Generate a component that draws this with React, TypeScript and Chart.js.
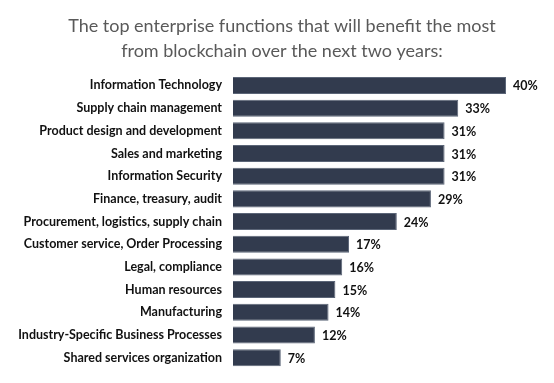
import React, { useEffect, useRef } from "react";
import { Chart, registerables } from "chart.js";

Chart.register(...registerables);

const titleLines = [
  "The top enterprise functions that will benefit the most",
  "from blockchain over the next two years:",
];

const categories = [
  "Information Technology",
  "Supply chain management",
  "Product design and development",
  "Sales and marketing",
  "Information Security",
  "Finance, treasury, audit",
  "Procurement, logistics, supply chain",
  "Customer service, Order Processing",
  "Legal, compliance",
  "Human resources",
  "Manufacturing",
  "Industry-Specific Business Processes",
  "Shared services organization",
];

const values = [40, 33, 31, 31, 31, 29, 24, 17, 16, 15, 14, 12, 7];

const FONT = "Lato, 'Open Sans', sans-serif";

const valueLabels = {
  id: "valueLabels",
  afterDatasetsDraw(chart: any) {
    const ctx = chart.ctx;
    const meta = chart.getDatasetMeta(0);
    ctx.save();
    ctx.font = `bold 12.5px ${FONT}`;
    ctx.fillStyle = "#111111";
    ctx.textAlign = "left";
    ctx.textBaseline = "middle";
    meta.data.forEach((bar: any, i: number) => {
      ctx.fillText(`${values[i]}%`, bar.x + 7, bar.y + 1);
    });
    ctx.restore();
  },
};

export default function App() {
  const ref = useRef<HTMLCanvasElement | null>(null);

  useEffect(() => {
    if (!ref.current) return;
    const chart = new Chart(ref.current, {
      type: "bar",
      data: {
        labels: categories,
        datasets: [
          {
            data: values,
            backgroundColor: "#323b4e",
            borderColor: "#5b6577",
            borderWidth: 1,
            barPercentage: 0.75,
            categoryPercentage: 1,
          },
        ],
      },
      options: {
        indexAxis: "y",
        animation: false,
        responsive: false,
        maintainAspectRatio: false,
        layout: { padding: { left: 10, right: 0, top: 6, bottom: 14 } },
        plugins: {
          legend: { display: false },
          tooltip: { enabled: false },
          title: {
            display: true,
            text: titleLines,
            color: "#595959",
            font: { family: FONT, size: 18, weight: "normal", lineHeight: 1.42 },
            padding: { top: 7, bottom: 10 },
          },
        },
        scales: {
          x: {
            display: false,
            min: 0,
            max: 47.03,
          },
          y: {
            grid: { display: false, drawTicks: false },
            border: { display: false },
            ticks: {
              color: "#111111",
              padding: 11,
              font: { family: FONT, size: 12.5, weight: "bold" },
              autoSkip: false,
            },
            afterFit(scale: any) {
              scale.width = 223;
              scale.paddingTop = 0;
              scale.paddingBottom = 0;
            },
          },
        },
      },
      plugins: [valueLabels],
    });
    return () => chart.destroy();
  }, []);

  return (
    <div style={{ position: "fixed", left: 0, top: 0, width: 554, height: 383, background: "#fff" }}>
      <canvas ref={ref} width={554} height={383} style={{ width: 554, height: 383 }} />
    </div>
  );
}
